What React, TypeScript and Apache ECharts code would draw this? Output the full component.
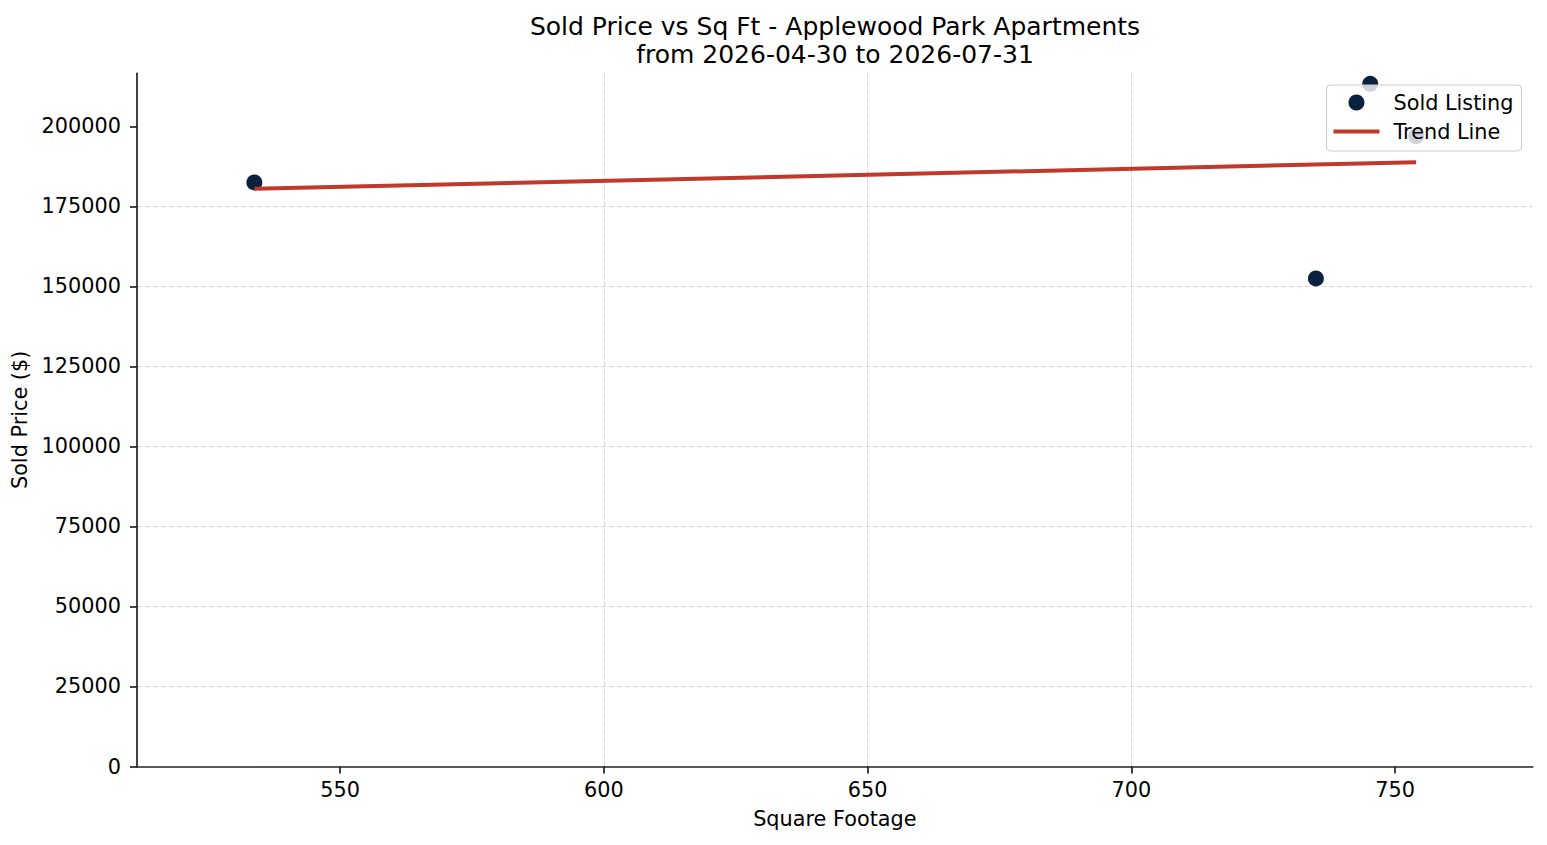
import React, { useEffect, useRef } from "react";
import * as echarts from "echarts";

const FONT = "DejaVu Sans";

const titleLines = ["Sold Price vs Sq Ft - Applewood Park Apartments", "from 2026-04-30 to 2026-07-31"];
const xAxisName = "Square Footage";
const yAxisName = "Sold Price ($)";

const sqft = [533.75, 735, 745.3, 754];
const soldPrice = [182500, 152500, 213300, 197000];

const trendSqft = [533.75, 754];
const trendPrice = [180500, 188800];

const xTicks = [550, 600, 650, 700, 750];
const yTicks = [0, 25000, 50000, 75000, 100000, 125000, 150000, 175000, 200000];

const xRange = [511.5, 776.1];
const yRange = [0, 216600];

const seriesNames = ["Sold Listing", "Trend Line"];

export default function App() {
  const ref = useRef<HTMLDivElement>(null);

  useEffect(() => {
    if (!ref.current) return;
    const chart = echarts.init(ref.current, undefined, { renderer: "svg" });
    const axisColor = "#222222";
    const gridLine = { show: true, showMinLine: false, showMaxLine: false, lineStyle: { color: "#d6d6d6", width: 1, type: [5, 3] } };
    chart.setOption({
      animation: false,
      backgroundColor: "#ffffff",
      textStyle: { fontFamily: FONT },
      title: {
        text: titleLines.join("\n"),
        left: 835,
        top: 12,
        padding: 0,
        textAlign: "center",
        textStyle: { fontFamily: FONT, fontSize: 25, fontWeight: "normal", color: "#000000", lineHeight: 28 },
      },
      legend: {
        data: [
          { name: seriesNames[0], icon: "circle" },
          { name: seriesNames[1], icon: "path://M0,0 L46,0 L46,4 L0,4 Z" },
        ],
        orient: "vertical",
        right: 25.5,
        top: 85,
        itemWidth: 46,
        itemHeight: 16,
        itemGap: 8,
        padding: [7, 8, 9, 7],
        backgroundColor: "rgba(255,255,255,0.8)",
        borderColor: "#cccccc",
        borderWidth: 1,
        borderRadius: 4,
        textStyle: { fontFamily: FONT, fontSize: 20.8, color: "#000000", padding: [0, 0, 0, 9] },
      },
      grid: { left: 137, right: 14.3, top: 73.3, bottom: 78.5, containLabel: false, outerBoundsMode: "none" },
      xAxis: {
        type: "value",
        min: xRange[0],
        max: xRange[1],
        name: xAxisName,
        nameLocation: "middle",
        nameGap: 42,
        nameTextStyle: { fontFamily: FONT, fontSize: 20.8, color: "#000000" },
        axisLine: { show: true, lineStyle: { color: axisColor, width: 1.7 } },
        axisTick: { show: true, length: 7, customValues: xTicks, lineStyle: { color: axisColor, width: 1.7 } },
        axisLabel: { customValues: xTicks, fontFamily: FONT, fontSize: 20.8, color: "#000000", margin: 13, formatter: (v: number) => String(v) },
        splitLine: gridLine,
      },
      yAxis: {
        type: "value",
        min: yRange[0],
        max: yRange[1],
        name: yAxisName,
        nameLocation: "middle",
        nameGap: 103,
        nameRotate: 90,
        nameTextStyle: { fontFamily: FONT, fontSize: 20.8, color: "#000000" },
        axisLine: { show: true, lineStyle: { color: axisColor, width: 1.7 } },
        axisTick: { show: true, length: 7, customValues: yTicks, lineStyle: { color: axisColor, width: 1.7 } },
        axisLabel: { customValues: yTicks, fontFamily: FONT, fontSize: 20.8, color: "#000000", margin: 16, formatter: (v: number) => String(v) },
        splitLine: gridLine,
      },
      series: [
        {
          name: seriesNames[0],
          type: "scatter",
          data: sqft.map((x, i) => [x, soldPrice[i]]),
          symbol: "circle",
          symbolSize: 16,
          itemStyle: { color: "#0a2240", opacity: 1 },
          z: 2,
        },
        {
          name: seriesNames[1],
          type: "line",
          data: trendSqft.map((x, i) => [x, trendPrice[i]]),
          symbol: "none",
          showSymbol: false,
          lineStyle: { color: "#c0392b", width: 4 },
          itemStyle: { color: "#c0392b" },
          z: 3,
        },
      ],
    });
    return () => chart.dispose();
  }, []);

  return (
    <div
      ref={ref}
      style={{ position: "fixed", left: 0, top: 0, width: 1547, height: 845, background: "#ffffff" }}
    />
  );
}
